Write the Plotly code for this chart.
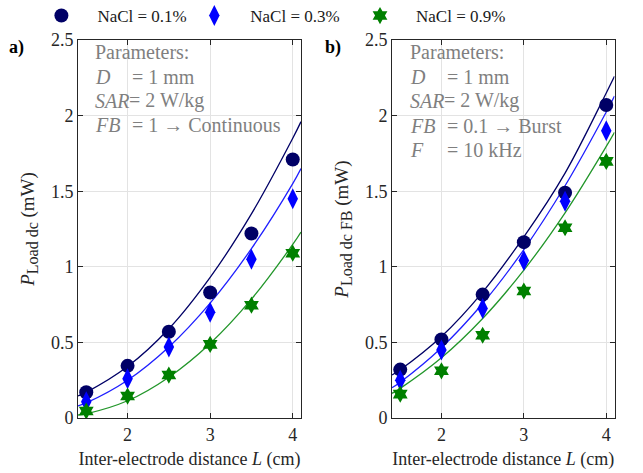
import plotly.graph_objects as go

# Inter-electrode distances of the measured points (cm)
L_points = [1.5, 2.0, 2.5, 3.0, 3.5, 4.0]

# Panel a) continuous stimulation, measured P_Load dc (mW)
a_nacl01 = [0.17, 0.345, 0.57, 0.83, 1.22, 1.71]
a_nacl03 = [0.108, 0.26, 0.47, 0.70, 1.05, 1.45]
a_nacl09 = [0.046, 0.145, 0.284, 0.487, 0.746, 1.09]

# Panel b) burst stimulation, measured P_Load dc FB (mW)
b_nacl01 = [0.32, 0.52, 0.816, 1.163, 1.49, 2.07]
b_nacl03 = [0.25, 0.45, 0.724, 1.042, 1.433, 1.90]
b_nacl09 = [0.158, 0.312, 0.547, 0.84, 1.258, 1.697]

# Model curves sampled across the axis span
L_model = [1.4, 1.5, 2.0, 2.5, 3.0, 3.5, 4.0, 4.1]
a_model01 = [0.146, 0.17, 0.34, 0.59, 0.93, 1.35, 1.85, 1.96]
a_model03 = [0.08, 0.10, 0.25, 0.47, 0.76, 1.12, 1.55, 1.65]
a_model09 = [0.02, 0.028, 0.114, 0.27, 0.493, 0.786, 1.148, 1.23]
b_model01 = [0.284, 0.319, 0.539, 0.833, 1.198, 1.62, 2.15, 2.26]
b_model03 = [0.20, 0.237, 0.465, 0.757, 1.114, 1.536, 2.024, 2.13]
b_model09 = [0.163, 0.196, 0.398, 0.658, 0.978, 1.357, 1.796, 1.89]

series_names = ["NaCl = 0.1%", "NaCl = 0.3%", "NaCl = 0.9%"]
marker_colors = ["#000066", "#0000ff", "#008000"]
line_colors = ["#000066", "#1f1fff", "#22962a"]
symbols = ["circle", "diamond-tall", "hexagram"]
marker_sizes = [14, 15, 13]
legend_ids = ["legend2", "legend3", "legend4"]
legend_left = [25.4, 178.3, 344]

y_ticks = [0, 0.5, 1, 1.5, 2, 2.5]
y_tick_text = ["0", "0.5", "1", "1.5", "2", "2.5"]
x_ticks = [2, 3, 4]

W, H = 643, 473
FONT = "Liberation Serif, Times New Roman, serif"
GRAY = "#7f7f7f"


def px(v):
    return v / W


def py(v):
    return 1 - v / H


fig = go.Figure()

panels = [
    ("x", "y", [a_nacl01, a_nacl03, a_nacl09], [a_model01, a_model03, a_model09]),
    ("x2", "y2", [b_nacl01, b_nacl03, b_nacl09], [b_model01, b_model03, b_model09]),
]

for pi, (xa, ya, meas, model) in enumerate(panels):
    for k in range(3):
        fig.add_trace(go.Scatter(
            x=L_model, y=model[k], xaxis=xa, yaxis=ya, mode="lines",
            line=dict(color=line_colors[k], width=1.3, shape="spline"),
            showlegend=False, hoverinfo="skip"))
    for k in range(3):
        fig.add_trace(go.Scatter(
            x=L_points, y=meas[k], xaxis=xa, yaxis=ya, mode="markers",
            name=series_names[k], legend=legend_ids[k],
            showlegend=(pi == 0),
            marker=dict(symbol=symbols[k], color=marker_colors[k],
                        size=marker_sizes[k], line=dict(width=0))))

axis_common = dict(
    showline=True, linecolor="#262626", linewidth=1, mirror="ticks",
    ticks="inside", ticklen=5, tickcolor="#262626", tickwidth=1,
    showgrid=True, gridcolor="#e3e3e3", gridwidth=1, zeroline=False,
    tickfont=dict(family=FONT, size=18, color="#262626"),
)

xdom_a = [px(78), px(301)]
xdom_b = [px(392), px(614.5)]
ydom = [py(418), py(40)]

xtitle = dict(text="Inter-electrode distance <i>L</i> (cm)",
              font=dict(family=FONT, size=18, color="#262626"), standoff=8)


def ytitle(sub):
    return dict(text="<i>P</i><sub><span style='font-size:16px'>%s</span></sub> (mW)" % sub,
                font=dict(family=FONT, size=19, color="#262626"), standoff=11)


legend_common = dict(orientation="h", yanchor="top", xanchor="left", itemwidth=62,
                     font=dict(family=FONT, size=17, color="#1a1a1a"),
                     bgcolor="rgba(0,0,0,0)", y=py(-2))

fig.update_layout(
    width=W, height=H,
    margin=dict(l=0, r=0, t=0, b=0, autoexpand=False),
    paper_bgcolor="white", plot_bgcolor="white",
    font=dict(family=FONT, size=18, color="#262626"),
    xaxis=dict(domain=xdom_a, range=[1.4, 4.1], tickvals=x_ticks, anchor="y",
               title=xtitle, **axis_common),
    yaxis=dict(domain=ydom, range=[0, 2.5], tickvals=y_ticks, ticktext=y_tick_text,
               anchor="x", title=ytitle("Load dc"), **axis_common),
    xaxis2=dict(domain=xdom_b, range=[1.4, 4.1], tickvals=x_ticks, anchor="y2",
                title=xtitle, **axis_common),
    yaxis2=dict(domain=ydom, range=[0, 2.5], tickvals=y_ticks, ticktext=y_tick_text,
                anchor="x2", title=ytitle("Load dc FB"), **axis_common),
    legend2=dict(x=px(legend_left[0]), **legend_common),
    legend3=dict(x=px(legend_left[1]), **legend_common),
    legend4=dict(x=px(legend_left[2]), **legend_common),
    showlegend=True,
)

annotations = []


def txt(x, y, s, size=20, color=GRAY, bold=False):
    annotations.append(dict(
        x=px(x), y=py(y), xref="paper", yref="paper", xanchor="left", yanchor="middle",
        text=("<b>%s</b>" % s) if bold else s, showarrow=False,
        font=dict(family=FONT, size=size, color=color)))


# panel letters
txt(7, 47, "a)", size=18, color="#000000", bold=True)
txt(323, 47, "b)", size=18, color="#000000", bold=True)

# parameter boxes
rows_a = [("<i>D</i>", "= 1 mm", 77), ("<i>SAR</i>", "= 2 W/kg", 101),
          ("<i>FB</i>", "= 1 \u2192 Continuous", 125)]
txt(93, 52, "Parameters:")
for lab, val, yy in rows_a:
    txt(93, yy, lab)
    txt(130 if lab != "<i>SAR</i>" else 127, yy, val)

rows_b = [("<i>D</i>", "= 1 mm", 77), ("<i>SAR</i>", "= 2 W/kg", 101),
          ("<i>FB</i>", "= 0.1 \u2192 Burst", 126), ("<i>F</i>", "= 10 kHz", 150)]
txt(408, 52, "Parameters:")
for lab, val, yy in rows_b:
    txt(408, yy, lab)
    txt(445 if lab != "<i>SAR</i>" else 442, yy, val)

fig.update_layout(annotations=annotations)

fig.write_html("out.html")
